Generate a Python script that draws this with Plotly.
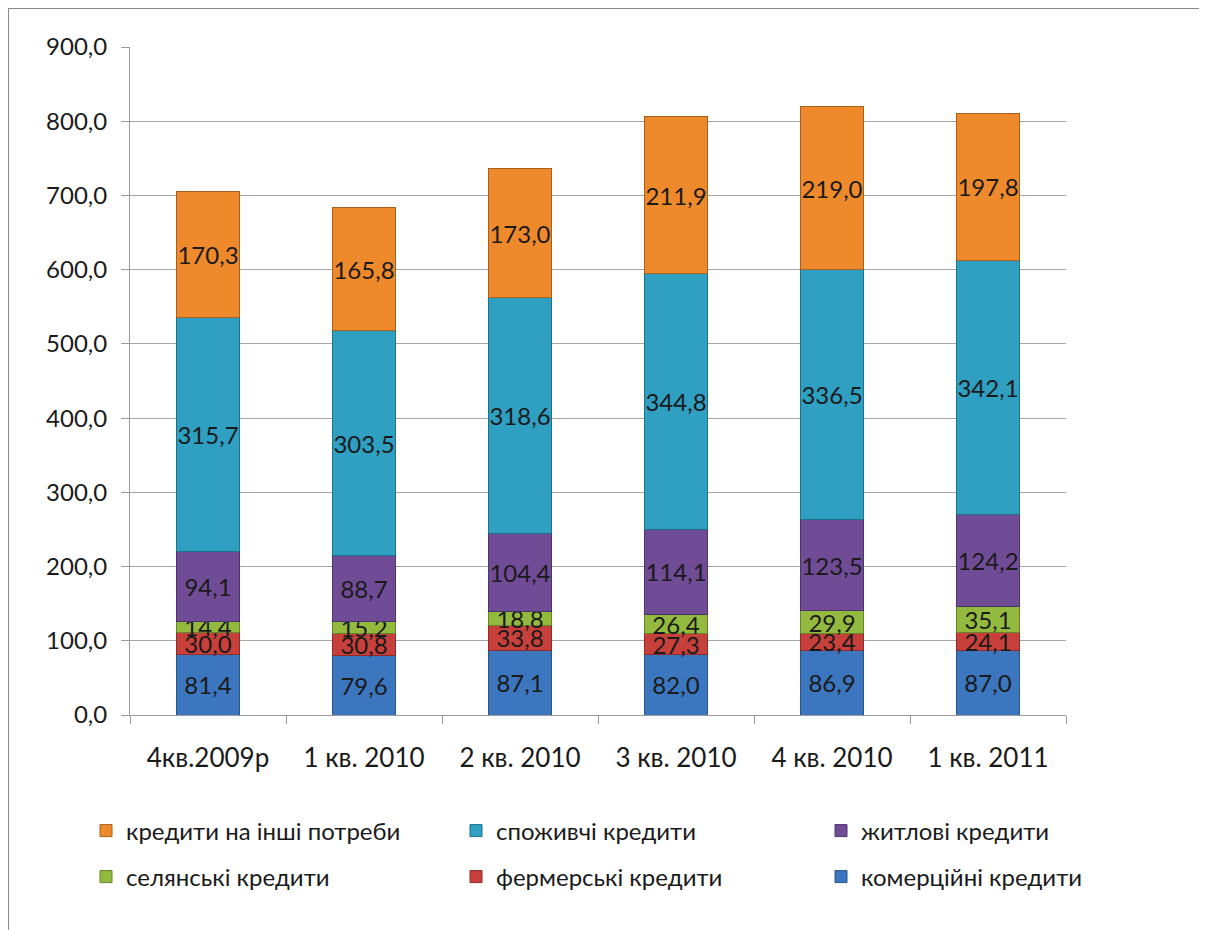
import plotly.graph_objects as go

categories = ["4кв.2009р", "1 кв. 2010", "2 кв. 2010", "3 кв. 2010", "4 кв. 2010", "1 кв. 2011"]

commercial = [81.4, 79.6, 87.1, 82.0, 86.9, 87.0]
farmer = [30.0, 30.8, 33.8, 27.3, 23.4, 24.1]
peasant = [14.4, 15.2, 18.8, 26.4, 29.9, 35.1]
housing = [94.1, 88.7, 104.4, 114.1, 123.5, 124.2]
consumer = [315.7, 303.5, 318.6, 344.8, 336.5, 342.1]
other = [170.3, 165.8, 173.0, 211.9, 219.0, 197.8]

# (name, values, fill, edge, legend column, legend row)
series = [
    ("комерційні кредити", commercial, "#3b76bf", "#2a5587", 2, 1),
    ("фермерські кредити", farmer, "#c8403b", "#8e2b28", 1, 1),
    ("селянські кредити", peasant, "#93ba3e", "#66822a", 0, 1),
    ("житлові кредити", housing, "#704c96", "#4d346a", 2, 0),
    ("споживчі кредити", consumer, "#2f9fc2", "#1f7089", 1, 0),
    ("кредити на інші потреби", other, "#ee8a2c", "#a9601d", 0, 0),
]

FONT = "Lato"
TXT = "#1a1a1a"

W, H = 1207, 930
OFF = 8  # page body margin
L, T = 130 - OFF, 47 - OFF
R = W - (1066 - OFF)
B = H - (715 - OFF)
pw, ph = W - L - R, H - T - B


def px_x(x):
    return (x - OFF - L) / pw


def px_y(y):
    return (H - B - (y - OFF)) / ph


col_px = [86, 456, 821]
row_px = [831, 877]

fig = go.Figure()
legends = {}
for i, (name, vals, col, edge, lc, lr) in enumerate(series):
    key = "legend" if i == 0 else f"legend{i + 1}"
    fig.add_trace(go.Bar(
        name=name, x=categories, y=vals,
        marker=dict(color=col, line=dict(color=edge, width=1)),
        text=vals, texttemplate="%{y:.1f}", textposition="inside",
        insidetextanchor="middle", constraintext="none", textangle=0,
        textfont=dict(family=FONT, size=24, color=TXT),
        width=0.41, legend=key,
    ))
    legends[key] = dict(
        orientation="v", xanchor="left", yanchor="middle",
        x=px_x(col_px[lc]), y=px_y(row_px[lr]),
        font=dict(family=FONT, size=24, color=TXT),
        bgcolor="rgba(0,0,0,0)", itemwidth=30,
    )

fig.update_layout(
    barmode="stack",
    width=W, height=H,
    margin=dict(l=L, r=R, t=T, b=B),
    paper_bgcolor="white", plot_bgcolor="white",
    separators=", ",
    font=dict(family=FONT, size=24, color=TXT),
    showlegend=True,
    xaxis=dict(
        showline=True, linecolor="#9a9a9a", linewidth=1,
        ticks="outside", tickson="boundaries", ticklen=8, tickcolor="#9a9a9a",
        tickfont=dict(family=FONT, size=26, color=TXT),
        ticklabelstandoff=20,
        showgrid=False,
    ),
    yaxis=dict(
        range=[0, 900], dtick=100, tickformat=".1f",
        showline=True, linecolor="#9a9a9a", linewidth=1,
        ticks="outside", ticklen=8, tickcolor="#9a9a9a",
        showgrid=True, gridcolor="#a6a6a6", gridwidth=1,
        tickfont=dict(family=FONT, size=24, color=TXT),
        ticklabelstandoff=9,
        zeroline=False,
    ),
    shapes=[dict(
        type="rect", xref="paper", yref="paper",
        x0=px_x(8), x1=px_x(W + 60),
        y0=px_y(H + 60), y1=px_y(8),
        line=dict(color="#8a8a8a", width=2), fillcolor="rgba(0,0,0,0)",
        layer="below",
    )],
)
fig.update_layout(**legends)

fig.write_html("out.html")
